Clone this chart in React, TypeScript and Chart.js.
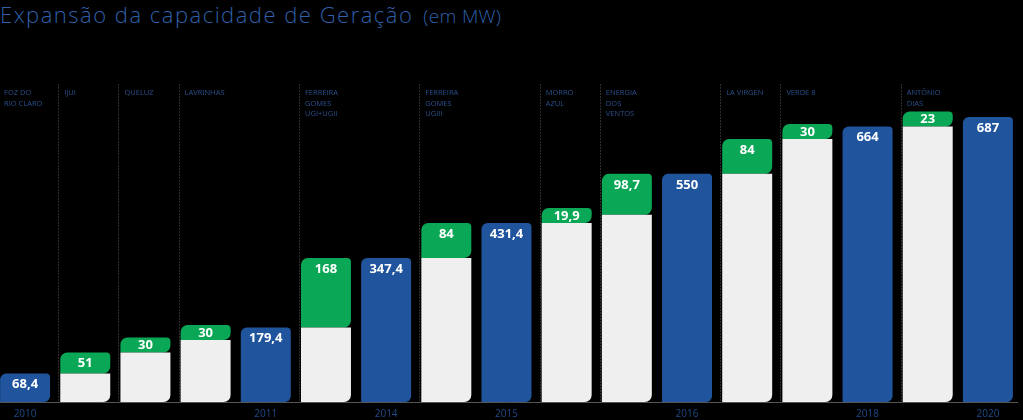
import React, { useEffect, useRef } from "react";
import { Chart, registerables } from "chart.js";

Chart.register(...registerables);

const yearLabels = ["2010", "", "", "", "2011", "", "2014", "", "2015", "", "", "2016", "", "", "2018", "", "2020"];
const projectNames: string[][] = [
  ["FOZ DO", "RIO CLARO"],
  ["IJUI"],
  ["QUELUZ"],
  ["LAVRINHAS"],
  [],
  ["FERREIRA", "GOMES", "UGI+UGII"],
  [],
  ["FERREIRA", "GOMES", "UGIII"],
  [],
  ["MORRO", "AZUL"],
  ["ENERGIA", "DOS", "VENTOS"],
  [],
  ["LA VIRGEN"],
  ["VERDE 8"],
  [],
  ["ANTÔNIO", "DIAS"],
  [],
];
const baseValues = [null, 68.4, 119.4, 149.4, null, 179.4, null, 347.4, null, 431.4, 451.3, null, 550, 634, null, 664, null];
const addedValues = [null, 51, 30, 30, null, 168, null, 84, null, 19.9, 98.7, null, 84, 30, null, 23, null];
const totalValues = [68.4, null, null, null, 179.4, null, 347.4, null, 431.4, null, null, 550, null, null, 664, null, 687];
const dividerIndices = [1, 2, 3, 5, 7, 9, 10, 12, 13, 15];

const BLUE = "#20559e";
const GREEN = "#0aa856";
const WHITE = "#efefef";

const fmt = (v: number) => v.toLocaleString("pt-BR", { maximumFractionDigits: 1 });

const overlayPlugin = {
  id: "overlay",
  beforeDatasetsDraw(chart: any) {
    const { ctx, chartArea, scales } = chart;
    const x = scales.x;
    ctx.save();
    ctx.strokeStyle = "#2e2e2e";
    ctx.lineWidth = 1;
    ctx.setLineDash([2, 1]);
    const drawLine = (px: number) => {
      ctx.beginPath();
      ctx.moveTo(Math.round(px) + 0.5, 84);
      ctx.lineTo(Math.round(px) + 0.5, chartArea.bottom);
      ctx.stroke();
    };
    dividerIndices.forEach((i) => drawLine(x.getPixelForValue(i) - 27));
    drawLine(x.getPixelForValue(16) + 31);
    ctx.setLineDash([]);
    // project names
    ctx.fillStyle = "#2b4f8c";
    ctx.font = "7.5px 'Open Sans'";
    ctx.textAlign = "left";
    ctx.textBaseline = "middle";
    projectNames.forEach((lines, i) => {
      const px = x.getPixelForValue(i) - 25 + 4;
      lines.forEach((t, j) => ctx.fillText(t, px, 93 + j * 10.5));
    });
    // baseline
    ctx.strokeStyle = "#555";
    ctx.beginPath();
    ctx.moveTo(0, chartArea.bottom + 0.5);
    ctx.lineTo(chart.width, chartArea.bottom + 0.5);
    ctx.stroke();
    // years
    ctx.fillStyle = "#1e4a88";
    ctx.font = "10px 'Open Sans'";
    ctx.textAlign = "center";
    yearLabels.forEach((t, i) => {
      if (t) ctx.fillText(t, x.getPixelForValue(i), 414);
    });
    ctx.restore();
  },
  afterDatasetsDraw(chart: any) {
    const { ctx } = chart;
    ctx.save();
    ctx.fillStyle = "#ffffff";
    ctx.font = "bold 13px 'Open Sans'";
    ctx.textAlign = "center";
    ctx.textBaseline = "middle";
    [1, 2].forEach((di) => {
      const meta = chart.getDatasetMeta(di);
      const data = chart.data.datasets[di].data;
      meta.data.forEach((el: any, i: number) => {
        const v = data[i];
        if (v == null) return;
        const h = Math.abs(el.base - el.y);
        ctx.fillText(fmt(v), el.x, el.y + Math.min(11, h / 2 + 0.5));
      });
    });
    ctx.restore();
  },
};

export default function App() {
  const ref = useRef<HTMLCanvasElement>(null);
  useEffect(() => {
    const chart = new Chart(ref.current!, {
      type: "bar",
      data: {
        labels: yearLabels.map((_, i) => String(i)),
        datasets: [
          {
            label: "base",
            data: baseValues as any,
            backgroundColor: WHITE,
            borderWidth: 0,
            borderSkipped: false,
            borderRadius: { topLeft: 0, topRight: 0, bottomLeft: 0, bottomRight: 7 },
          },
          {
            label: "added",
            data: addedValues as any,
            backgroundColor: GREEN,
            borderWidth: 0,
            borderSkipped: false,
            minBarLength: 15,
            borderRadius: { topLeft: 7, topRight: 4, bottomLeft: 0, bottomRight: 7 },
          },
          {
            label: "total",
            data: totalValues as any,
            backgroundColor: BLUE,
            borderWidth: 0,
            borderSkipped: false,
            borderRadius: { topLeft: 6, topRight: 4, bottomLeft: 0, bottomRight: 6 },
          },
        ],
      },
      options: {
        animation: false,
        responsive: true,
        maintainAspectRatio: false,
        layout: { padding: { top: 0, bottom: 18, left: 0, right: 0 } },
        datasets: { bar: { barPercentage: 50 / 60.2, categoryPercentage: 1 } },
        plugins: { legend: { display: false }, tooltip: { enabled: false } },
        scales: {
          x: { stacked: true, display: false },
          y: { stacked: true, display: false, min: 0, max: 969 },
        },
      },
      plugins: [overlayPlugin],
    });
    return () => chart.destroy();
  }, []);

  return (
    <div style={{ position: "fixed", left: 0, top: 0, width: 1023, height: 420, background: "#000", overflow: "hidden" }}>
      <div
        style={{
          position: "absolute",
          left: 0,
          top: 0,
          fontFamily: "'Open Sans', sans-serif",
          fontWeight: 300,
          color: "#2f5fa8",
          whiteSpace: "nowrap",
          lineHeight: "28px",
        }}
      >
        <span style={{ fontSize: 22, letterSpacing: 1.5 }}>Expansão da capacidade de Geração</span>
        <span style={{ fontSize: 19, letterSpacing: 0.3, marginLeft: 10 }}>(em MW)</span>
      </div>
      <div style={{ position: "absolute", left: -5, top: 0, width: 1023, height: 420 }}>
        <canvas ref={ref} />
      </div>
    </div>
  );
}
